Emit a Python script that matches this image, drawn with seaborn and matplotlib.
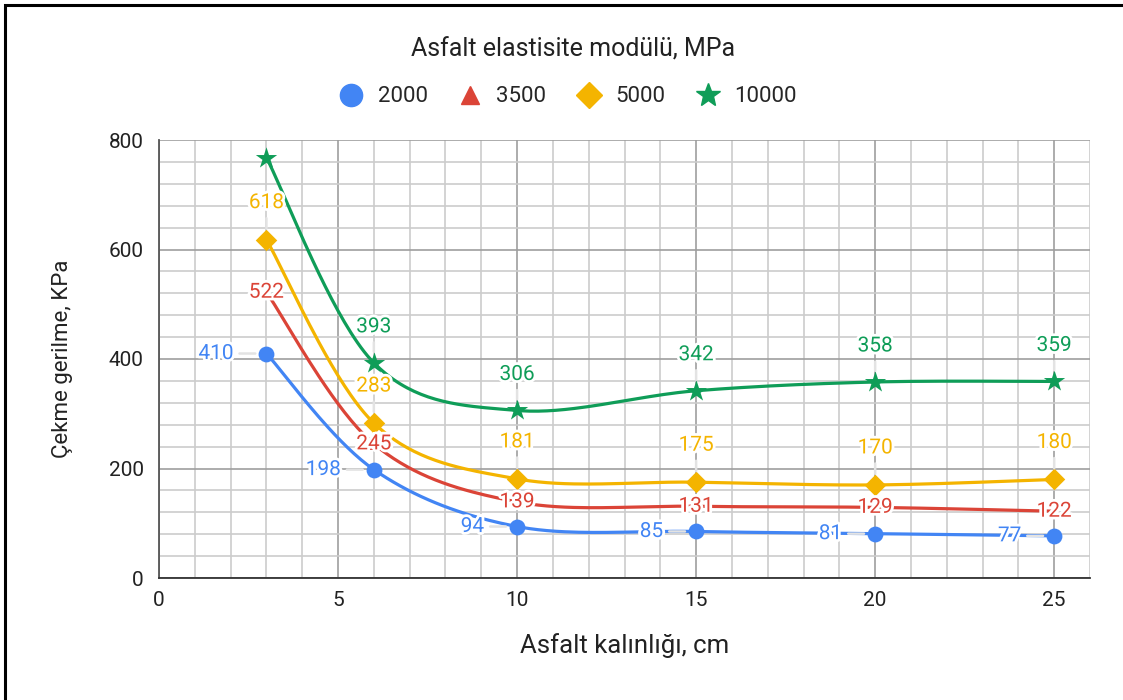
import numpy as np
import pandas as pd
import seaborn as sns
import matplotlib.pyplot as plt
from matplotlib.lines import Line2D
from matplotlib.patches import Rectangle
from matplotlib.ticker import MultipleLocator
import matplotlib.patheffects as pe

# Data
thickness = [3, 6, 10, 15, 20, 25]
series_names = ["2000", "3500", "5000", "10000"]
stress_2000 = [410, 198, 94, 85, 81, 77]
stress_3500 = [522, 245, 139, 131, 129, 122]
stress_5000 = [618, 283, 181, 175, 170, 180]
stress_10000 = [768, 393, 306, 342, 358, 359]

colors = ["#4285F4", "#DB4437", "#F4B400", "#0F9D58"]
markers = ["o", "^", "D", "*"]
sizes = [130, 60, 120, 260]


def smooth(xs, ys, n=40):
    # Catmull-Rom curve through the points (for drawing only)
    p = np.column_stack([xs, ys]).astype(float)
    p = np.vstack([p[0], p, p[-1]])
    out = []
    t = np.linspace(0, 1, n)
    for i in range(1, len(p) - 2):
        p0, p1, p2, p3 = p[i - 1], p[i], p[i + 1], p[i + 2]
        m1 = (p2 - p0) / 2
        m2 = (p3 - p1) / 2
        h00 = 2 * t**3 - 3 * t**2 + 1
        h10 = t**3 - 2 * t**2 + t
        h01 = -2 * t**3 + 3 * t**2
        h11 = t**3 - t**2
        seg = (h00[:, None] * p1 + h10[:, None] * m1
               + h01[:, None] * p2 + h11[:, None] * m2)
        out.append(seg if i == 1 else seg[1:])
    return np.vstack(out)


all_series = [stress_2000, stress_3500, stress_5000, stress_10000]

points = pd.DataFrame({
    "x": thickness * 4,
    "y": sum(all_series, []),
    "E": [n for n in series_names for _ in thickness],
})

curves = []
for name, ys in zip(series_names, all_series):
    c = smooth(thickness, ys)
    curves.append(pd.DataFrame({"x": c[:, 0], "y": c[:, 1], "E": name}))
curves = pd.concat(curves)

sns.set_theme(style="white")
plt.rcParams["font.family"] = ["Roboto", "DejaVu Sans"]

fig = plt.figure(figsize=(11.23, 7), dpi=100)
ax = fig.add_axes([159 / 1123, 1 - 578 / 700, (1090 - 159) / 1123, (578 - 140) / 700])

palette = dict(zip(series_names, colors))
sns.lineplot(data=curves, x="x", y="y", hue="E", palette=palette, sort=False,
             estimator=None, linewidth=2.3, legend=False, ax=ax, zorder=3)
for name, m, s in zip(series_names, markers, sizes):
    sub = points[points["E"] == name]
    sns.scatterplot(data=sub, x="x", y="y", color=palette[name], marker=m, s=s,
                    linewidth=0, legend=False, ax=ax, zorder=4)

# data labels
halo = [pe.withStroke(linewidth=4, foreground="white")]
label_style = {
    "2000": dict(xytext=(-33, 0), ha="right", va="center"),
    "3500": dict(xytext=(0, 0), ha="center", va="center"),
    "5000": dict(xytext=(0, 37), ha="center", va="center"),
    "10000": dict(xytext=(0, 36), ha="center", va="center"),
}
leader = dict(arrowstyle="-", color="#e3e3e3", lw=1.8, shrinkA=2, shrinkB=8)
for name, ys in zip(series_names, all_series):
    for x, y in zip(thickness, ys):
        if name == "10000" and x == 3:
            continue
        ax.annotate(str(y), (x, y), textcoords="offset pixels", fontsize=15,
                    color=palette[name], path_effects=halo, zorder=6,
                    arrowprops=None if name == "3500" else leader,
                    **label_style[name])

ax.set_xlim(0, 26)
ax.set_ylim(0, 800)
ax.xaxis.set_major_locator(MultipleLocator(5))
ax.xaxis.set_minor_locator(MultipleLocator(1))
ax.yaxis.set_major_locator(MultipleLocator(200))
ax.yaxis.set_minor_locator(MultipleLocator(40))
ax.grid(which="major", color="#9e9e9e", linewidth=1.2, zorder=0)
ax.grid(which="minor", color="#cccccc", linewidth=1.2, zorder=0)
ax.set_axisbelow(True)
for side in ["top", "right"]:
    ax.spines[side].set_visible(False)
ax.spines["left"].set_color("#555555")
ax.spines["bottom"].set_color("#333333")
ax.spines["left"].set_linewidth(1.3)
ax.spines["bottom"].set_linewidth(1.3)
ax.tick_params(axis="both", which="both", length=0, labelsize=15, colors="#222222")
ax.tick_params(axis="y", pad=11)
ax.tick_params(axis="x", pad=9)

ax.set_xlabel("Asfalt kalınlığı, cm", fontsize=18.5, color="#222222", labelpad=17)
ax.set_ylabel("Çekme gerilme, KPa", fontsize=16, color="#222222", labelpad=26)

fig.text(0.51, 1 - 50 / 700, "Asfalt elastisite modülü, MPa", ha="center",
         va="center", fontsize=18, color="#222222")

handles = [Line2D([], [], linestyle="none", marker=m, color=c, markersize=ms)
           for m, c, ms in zip(markers, colors, [16, 13, 13, 18])]
fig.legend(handles, series_names, loc="center", bbox_to_anchor=(0.505, 1 - 97 / 700),
           ncol=4, frameon=False, fontsize=16, handletextpad=0.6,
           columnspacing=1.3, handlelength=1.2)

# outer frame (only the top and left edges show in the reference)
fig.patches.append(Rectangle((5 / 1123, -0.2), 1.5, 1.2 - 6 / 700 + 0.001,
                             transform=fig.transFigure, fill=False,
                             edgecolor="black", linewidth=2.2))

fig.savefig("out.png", dpi=100)
